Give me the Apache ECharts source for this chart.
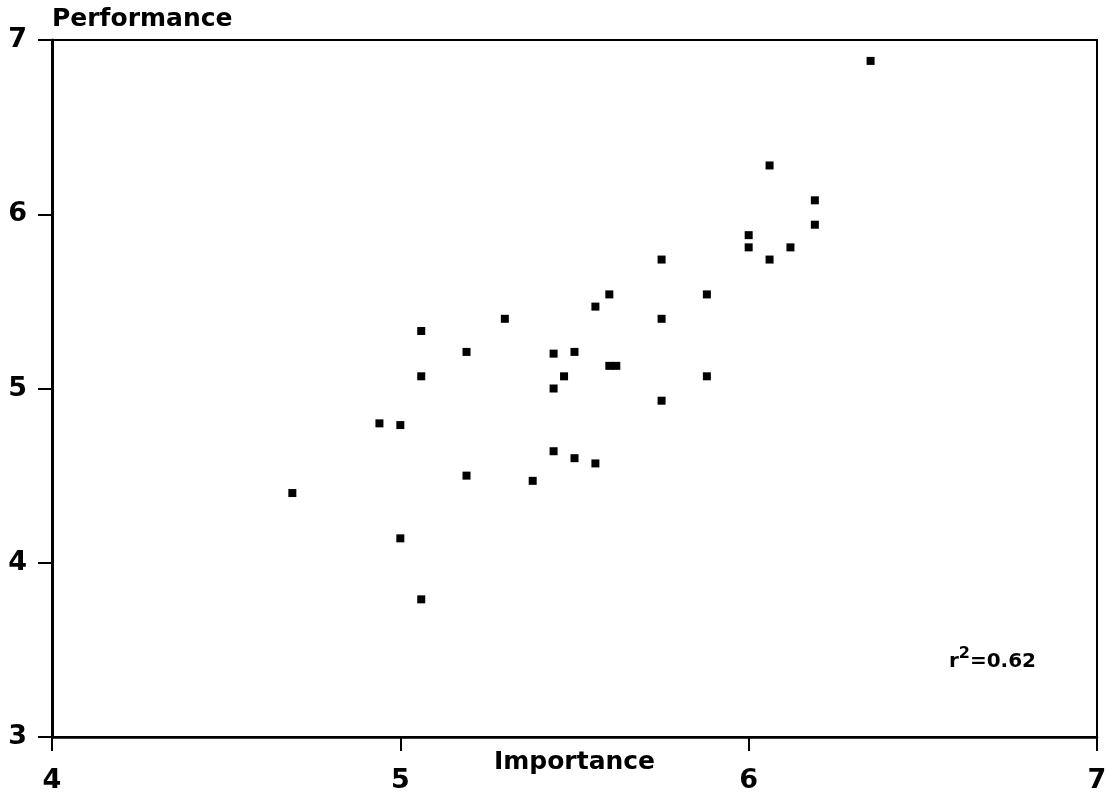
<!DOCTYPE html>
<html>
<head>
<meta charset="utf-8">
<title>Importance vs Performance</title>
<script src="https://cdn.jsdelivr.net/npm/echarts@6/dist/echarts.min.js"></script>
<style>
  html, body { margin: 0; padding: 0; background: #fff; }
  #chart { width: 1107px; height: 797px; }
</style>
</head>
<body>
<div id="chart"></div>
<script>
// importance (x) and performance (y) of each item
const importance = [
  6.35, 6.06, 6.19, 6.19, 6.00, 6.00, 6.12, 6.06, 5.75, 5.88,
  5.60, 5.56, 5.30, 5.75, 5.06, 5.44, 5.50, 5.19, 5.60, 5.62,
  5.47, 5.06, 5.88, 5.44, 5.75, 4.94, 5.00, 5.44, 5.50, 5.56,
  5.19, 5.38, 4.69, 5.00, 5.06
];
const performance = [
  6.88, 6.28, 6.08, 5.94, 5.88, 5.81, 5.81, 5.74, 5.74, 5.54,
  5.54, 5.47, 5.40, 5.40, 5.33, 5.20, 5.21, 5.21, 5.13, 5.13,
  5.07, 5.07, 5.07, 5.00, 4.93, 4.80, 4.79, 4.64, 4.60, 4.57,
  4.50, 4.47, 4.40, 4.14, 3.79
];
const xTicks = { min: 4, max: 7, step: 1 };
const yTicks = { min: 3, max: 7, step: 1 };
const rSquared = '0.62';

const points = importance.map((x, i) => [x, performance[i]]);
const font = '"DejaVu Sans", Arial, sans-serif';

const chart = echarts.init(document.getElementById('chart'));
chart.setOption({
  animation: false,
  grid: {
    left: 52, right: 10, top: 40, bottom: 60,
    outerBoundsMode: 'none',
    containLabel: false,
    show: true, borderColor: '#000', borderWidth: 2
  },
  xAxis: {
    type: 'value',
    min: xTicks.min, max: xTicks.max, interval: xTicks.step,
    name: 'Importance',
    nameLocation: 'middle',
    nameGap: 13,
    nameMoveOverlap: false,
    nameTextStyle: { fontFamily: font, fontWeight: 'bold', fontSize: 25, color: '#000' },
    axisLine: { lineStyle: { color: '#000', width: 2.5 } },
    axisTick: { length: 14, lineStyle: { color: '#000', width: 2 } },
    axisLabel: { margin: 30, fontFamily: font, fontWeight: 'bold', fontSize: 27, color: '#000' },
    splitLine: { show: false }
  },
  yAxis: {
    type: 'value',
    min: yTicks.min, max: yTicks.max, interval: yTicks.step,
    name: 'Performance',
    nameLocation: 'end',
    nameGap: 21,
    nameMoveOverlap: false,
    nameTextStyle: { fontFamily: font, fontWeight: 'bold', fontSize: 25, color: '#000',
      align: 'left', verticalAlign: 'middle' },
    axisLine: { lineStyle: { color: '#000', width: 3 } },
    axisTick: { length: 14, lineStyle: { color: '#000', width: 2 } },
    axisLabel: { margin: 25, fontFamily: font, fontWeight: 'bold', fontSize: 27, color: '#000' },
    splitLine: { show: false }
  },
  graphic: [{
    type: 'text',
    right: 71,
    top: 646,
    style: {
      text: 'r{sup|2}=' + rSquared,
      font: 'bold 20px ' + font,
      fill: '#000',
      rich: {
        sup: { fontSize: 16, fontWeight: 'bold', fontFamily: font, verticalAlign: 'top', padding: [0, 0, 16, 0] }
      }
    }
  }],
  series: [{
    type: 'scatter',
    data: points,
    symbol: 'rect',
    symbolSize: 8,
    itemStyle: { color: '#000', opacity: 1 }
  }]
});
</script>
</body>
</html>
